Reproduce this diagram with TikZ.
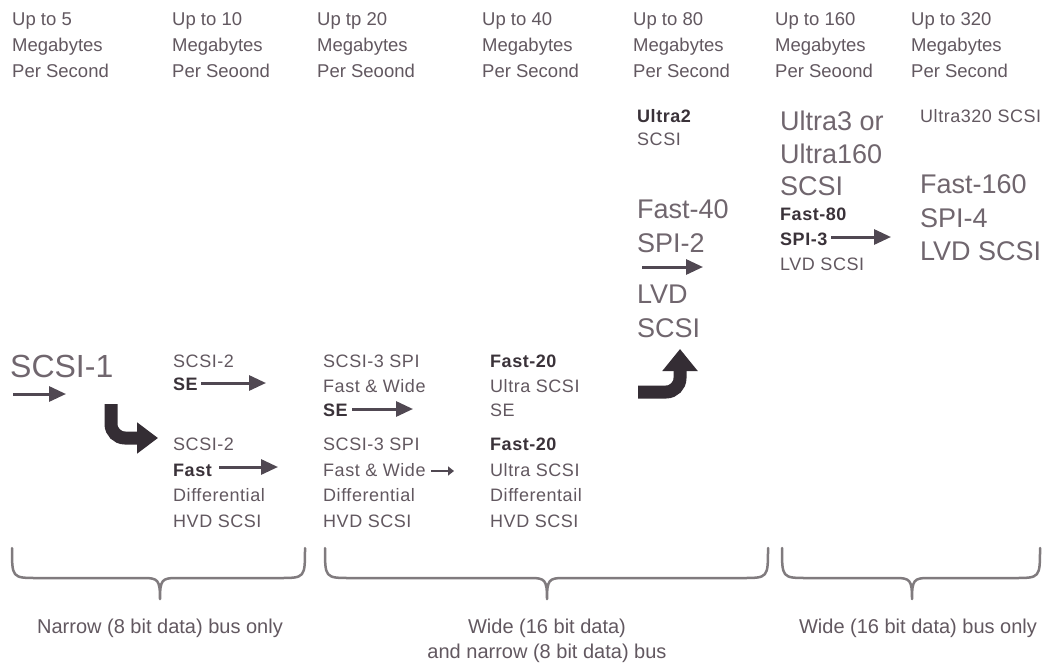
\documentclass[tikz,border=0pt]{standalone}
\usepackage{fontspec}
\setmainfont{Liberation Sans}
\newfontfamily\spacedfont{Liberation Sans}[LetterSpace=3]
\usetikzlibrary{arrows.meta}
\definecolor{txt}{RGB}{98,88,96}
\definecolor{txtl}{RGB}{112,102,110}
\definecolor{txtd}{RGB}{58,50,57}
\definecolor{arr}{RGB}{80,72,82}
\definecolor{arrd}{RGB}{52,45,52}
\definecolor{brc}{RGB}{128,123,126}
\begin{document}
\begin{tikzpicture}[x=1pt,y=-1pt,
  every node/.style={inner sep=0pt, anchor=base west},
  hd/.style={font=\fontsize{18.5}{22}\selectfont, text=txt},
  sm/.style={font=\spacedfont\fontsize{18}{22}\selectfont, text=txt},
  smb/.style={font=\spacedfont\fontsize{18}{22}\selectfont\bfseries, text=txtd},
  lg/.style={font=\fontsize{27}{32}\selectfont, text=txtl},
  lab/.style={font=\fontsize{20}{24}\selectfont, text=txt, anchor=base},
  thinarrow/.style={draw=arr, line width=3pt, -{Triangle[length=17pt,width=15pt]}},
  tinyarrow/.style={draw=arr, line width=2.5pt, -{Triangle[length=6pt,width=9pt]}},
  bentarrow/.style={draw=arrd, line width=13pt, rounded corners=14pt, -{Triangle[length=21pt,width=30pt]}},
  bracestyle/.style={draw=brc, line width=2.5pt, line cap=round, line join=round}]
\useasboundingbox (0,0) rectangle (1054,664);
\fill[white] (0,0) rectangle (1054,664);

% header
\foreach \x/\u/\c [count=\i] in {12/{Up to 5}/Second, 172/{Up to 10}/Seoond, 317/{Up tp 20}/Seoond, 482/{Up to 40}/Second, 633/{Up to 80}/Second, 775/{Up to 160}/Seoond, 911/{Up to 320}/Second}{
  \node[hd] (h\i-1) at (\x,25) {\u};
  \node[hd] (h\i-2) at (\x,51) {Megabytes};
  \node[hd] (h\i-3) at (\x,77) {Per \c};
}

% column 1
\node[font=\fontsize{32}{36}\selectfont, text=txtl] (scsi1) at (10,377) {SCSI-1};
\coordinate (a1s) at (13,394);
\coordinate (a1e) at (66,394);
\draw[thinarrow] (a1s) -- (a1e);
\coordinate (b1s) at (111,404);
\coordinate (b1c) at (111,438);
\coordinate (b1e) at (158,438);
\draw[bentarrow] (b1s) -- (b1c) -- (b1e);

% column 2
\node[sm] (c2a) at (173,367) {SCSI-2};
\node[smb] (c2b) at (173,390) {SE};
\coordinate (a2s) at (201,383);
\coordinate (a2e) at (266,383);
\draw[thinarrow] (a2s) -- (a2e);
\node[sm] (c2c) at (173,450) {SCSI-2};
\node[smb] (c2d) at (173,476) {Fast};
\coordinate (a3s) at (219,467);
\coordinate (a3e) at (278,467);
\draw[thinarrow] (a3s) -- (a3e);
\node[sm] (c2e) at (173,501) {Differential};
\node[sm] (c2f) at (173,527) {HVD SCSI};

% column 3
\node[sm] (c3a) at (323,367) {SCSI-3 SPI};
\node[sm] (c3b) at (323,392) {Fast \& Wide};
\node[smb] (c3c) at (323,416) {SE};
\coordinate (a4s) at (352,409);
\coordinate (a4e) at (413,409);
\draw[thinarrow] (a4s) -- (a4e);
\node[sm] (c3d) at (323,450) {SCSI-3 SPI};
\node[sm] (c3e) at (323,476) {Fast \& Wide};
\coordinate (a5s) at (431,471);
\coordinate (a5e) at (454,471);
\draw[tinyarrow] (a5s) -- (a5e);
\node[sm] (c3f) at (323,501) {Differential};
\node[sm] (c3g) at (323,527) {HVD SCSI};

% column 4
\node[smb] (c4a) at (490,367) {Fast-20};
\node[sm] (c4b) at (490,392) {Ultra SCSI};
\node[sm] (c4c) at (490,416) {SE};
\node[smb] (c4d) at (490,450) {Fast-20};
\node[sm] (c4e) at (490,476) {Ultra SCSI};
\node[sm] (c4f) at (490,501) {Differentail};
\node[sm] (c4g) at (490,527) {HVD SCSI};

% column 5
\node[smb] (c5a) at (637,122) {Ultra2};
\node[sm] (c5b) at (637,145) {SCSI};
\node[lg] (c5c) at (637,218) {Fast-40};
\node[lg] (c5d) at (637,252) {SPI-2};
\coordinate (a6s) at (642,267);
\coordinate (a6e) at (703,267);
\draw[thinarrow] (a6s) -- (a6e);
\node[lg] (c5e) at (637,303) {LVD};
\node[lg] (c5f) at (637,337) {SCSI};
\coordinate (b2s) at (638,392);
\coordinate (b2c) at (680,392);
\coordinate (b2e) at (680,349);
\draw[bentarrow, -{Triangle[length=22pt,width=34pt]}] (b2s) -- (b2c) -- (b2e);

% column 6
\node[lg] (c6a) at (780,130) {Ultra3 or};
\node[lg] (c6b) at (780,163) {Ultra160};
\node[lg] (c6c) at (780,195) {SCSI};
\node[smb] (c6d) at (780,220) {Fast-80};
\node[smb] (c6e) at (780,245) {SPI-3};
\coordinate (a7s) at (831,237);
\coordinate (a7e) at (891,237);
\draw[thinarrow] (a7s) -- (a7e);
\node[sm] (c6f) at (780,270) {LVD SCSI};

% column 7
\node[sm] (c7a) at (920,122) {Ultra320 SCSI};
\node[lg] (c7b) at (920,193) {Fast-160};
\node[lg] (c7c) at (920,227) {SPI-4};
\node[lg] (c7d) at (920,260) {LVD SCSI};

% braces
\foreach \l/\c/\r/\n in {12/160/305/1, 325/547/768/2, 782/912/1040/3}{
  \coordinate (br\n l) at (\l,548);
  \coordinate (br\n t) at (\c,599);
  \coordinate (br\n r) at (\r,548);
  \draw[bracestyle] (br\n l) .. controls (\l,578) and (\l,578) .. (\l+26,578)
     -- (\c-16,578) .. controls (\c-2,578) and (\c,580) .. (br\n t)
     .. controls (\c,580) and (\c+2,578) .. (\c+16,578)
     -- (\r-26,578) .. controls (\r,578) and (\r,578) .. (br\n r);
}

% labels
\node[lab] (l1) at (160,633) {Narrow (8 bit data) bus only};
\node[lab] (l2) at (547,633) {Wide (16 bit data)};
\node[lab] (l3) at (547,658) {and narrow (8 bit data) bus};
\node[lab] (l4) at (918,633) {Wide (16 bit data) bus only};
\end{tikzpicture}
\end{document}
